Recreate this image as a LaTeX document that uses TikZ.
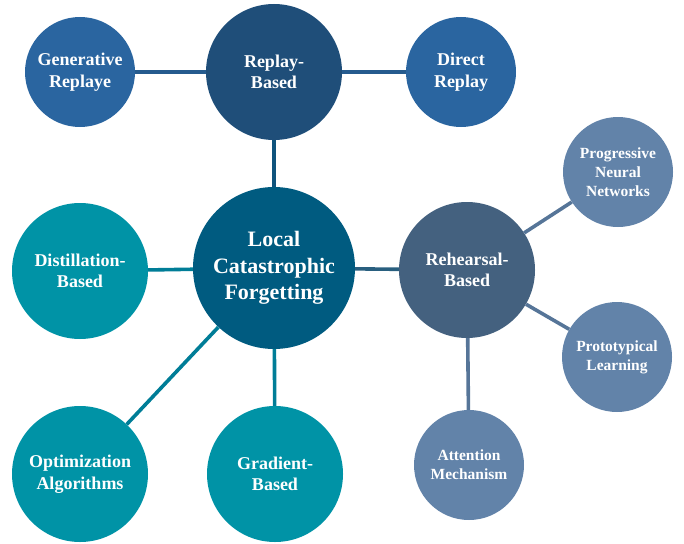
\documentclass[tikz,border=0pt]{standalone}
\usepackage{fontspec}
\setmainfont{Liberation Serif}
\usetikzlibrary{calc}
\definecolor{cRep}{HTML}{1F4E79}
\definecolor{cRepL}{HTML}{2A65A0}
\definecolor{cCen}{HTML}{005B80}
\definecolor{cTeal}{HTML}{0093A6}
\definecolor{cReh}{HTML}{44617F}
\definecolor{cRehL}{HTML}{6283A9}
\tikzset{
  bub/.style={circle, inner sep=0pt, align=center, text=white, font=\bfseries\fontsize{18}{21.5}\selectfont},
  bigbub/.style={bub, minimum size=162pt, font=\bfseries\fontsize{22}{26.5}\selectfont},
  midbub/.style={bub, minimum size=136pt},
  smallbub/.style={bub, minimum size=110pt},
  tinytext/.style={font=\bfseries\fontsize{15.5}{19}\selectfont},
  conn/.style={line width=3.6pt}
}
\begin{document}
\begin{tikzpicture}[x=1pt,y=-1pt]
\useasboundingbox (0,0) rectangle (684,543);
\node[bigbub, fill=cCen] (cen) at (274,268) {Local\\Catastrophic\\Forgetting};
\node[midbub, fill=cRep] (rep) at (274,72) {Replay-\\Based};
\node[smallbub, fill=cRepL] (gen) at (80,72) {Generative\\Replaye};
\node[smallbub, fill=cRepL] (dir) at (461,72) {Direct\\Replay};
\node[midbub, fill=cTeal] (dist) at (80,271) {Distillation-\\Based};
\node[midbub, fill=cTeal] (opt) at (80,474) {Optimization\\Algorithms};
\node[midbub, fill=cTeal] (grad) at (275,474) {Gradient-\\Based};
\node[midbub, fill=cReh] (reh) at (467,270) {Rehearsal-\\Based};
\node[smallbub, tinytext, fill=cRehL] (prog) at (618,172) {Progressive\\Neural\\Networks};
\node[smallbub, tinytext, fill=cRehL] (proto) at (617,357) {Prototypical\\Learning};
\node[smallbub, tinytext, fill=cRehL] (att) at (469,465) {Attention\\Mechanism};
\draw[conn, color=cRepL!55!cRep] (gen) -- (rep);
\draw[conn, color=cRepL!55!cRep] (rep) -- (dir);
\draw[conn, color=cRep!50!cCen] (rep) -- (cen);
\draw[conn, color=cCen!40!cTeal] (cen) -- (dist);
\draw[conn, color=cCen!40!cTeal] (cen) -- (opt);
\draw[conn, color=cCen!40!cTeal] (cen) -- (grad);
\draw[conn, color=cCen!40!cReh] (cen) -- (reh);
\draw[conn, color=cReh!40!cRehL] (reh) -- (prog);
\draw[conn, color=cReh!40!cRehL] (reh) -- (proto);
\draw[conn, color=cReh!40!cRehL] (reh) -- (att);
\end{tikzpicture}
\end{document}
